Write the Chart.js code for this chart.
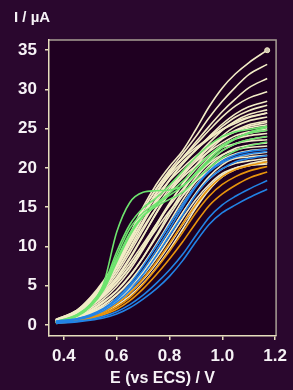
<!DOCTYPE html>
<html><head><meta charset="utf-8">
<script src="https://cdn.jsdelivr.net/npm/chart.js@4.4.1/dist/chart.umd.min.js"></script>
<style>html,body{margin:0;padding:0;background:#2a072e;}canvas{display:block}</style>
</head><body>
<canvas id="c" width="293" height="390"></canvas>
<script>
// Potential (V vs ECS) sample points shared by every voltammogram
const potentials = [0.37,0.45,0.5,0.55,0.6,0.65,0.7,0.75,0.8,0.85,0.9,0.95,1.0,1.05,1.1,1.17];
const xTicks = [0.4,0.6,0.8,1.0,1.2];
const yTicks = [0,5,10,15,20,25,30,35];

// Current (µA) curves
const blueSeries = [
  [0.2,0.4,0.6,0.9,1.4,2.2,3.3,4.6,6.2,8.2,10.6,12.8,14.3,15.3,16.2,17.3],
  [0.3,0.5,0.7,1.1,1.7,2.6,3.8,5.3,7.0,9.0,11.4,13.7,15.3,16.4,17.3,18.4],
  [0.4,0.7,1.1,1.8,2.9,4.4,6.4,8.8,11.4,14.0,16.6,18.6,19.9,20.8,21.2,21.6],
  [0.5,0.8,1.2,2.0,3.2,4.9,7.0,9.5,12.2,15.0,17.6,19.6,20.9,21.7,22.1,22.4],
  [0.4,0.8,1.3,2.1,3.4,5.2,7.5,10.1,12.8,15.4,17.7,19.5,20.7,21.4,21.8,22.1]
];
const orangeSeries = [
  [0.2,0.5,0.8,1.3,2.0,3.1,4.6,6.4,8.4,10.6,13.0,15.2,16.7,17.8,18.7,19.5],
  [0.3,0.6,0.9,1.4,2.3,3.5,5.2,7.2,9.4,11.8,14.3,16.4,17.9,18.9,19.6,20.2],
  [0.3,0.6,1.0,1.6,2.7,4.1,5.9,8.0,10.4,12.9,15.3,17.4,18.9,19.8,20.3,20.8]
];
const greenSeries = [
  [0.4,1.3,2.6,5.2,11.8,15.6,16.9,17.1,17.2,17.7,19.4,21.1,22.6,23.7,24.5,25.2],
  [0.3,1.2,2.5,4.8,8.8,12.3,14.3,15.5,16.8,18.3,20.0,21.6,22.9,23.8,24.4,24.8],
  [0.3,1.1,2.3,4.4,8.0,11.4,13.8,15.1,16.0,16.9,18.5,20.0,21.3,22.2,22.8,23.3],
  [0.4,1.3,2.6,5.0,9.3,12.8,14.9,16.2,17.8,19.6,21.4,22.9,24.0,24.6,24.9,25.3],
  [0.3,1.2,2.4,4.6,8.3,11.7,13.9,15.3,16.5,17.7,19.2,20.8,22.2,23.1,23.6,24.0]
];
const creamSeries = [
  [0.6,1.8,3.3,5.4,8.0,11.5,15.0,17.9,20.2,22.2,24.9,27.8,30.2,32.0,33.4,35.0],
  [0.6,1.8,3.2,5.2,7.8,11.2,14.6,17.4,19.7,21.8,24.0,26.4,28.5,30.3,31.9,33.2],
  [0.5,1.7,3.1,5.0,7.5,10.6,13.8,16.7,19.2,21.3,23.3,25.3,27.2,28.8,30.2,31.4],
  [0.6,1.8,3.2,5.1,7.6,10.8,14.0,16.9,19.3,21.3,23.0,24.8,26.5,27.9,28.9,29.7],
  [0.5,1.6,2.9,4.6,6.9,9.8,12.9,15.8,18.4,20.5,22.3,24.0,25.6,26.9,27.8,28.5],
  [0.6,1.7,3.1,4.9,7.3,10.3,13.3,16.0,18.5,20.6,22.3,23.9,25.3,26.5,27.3,28.0],
  [0.4,1.4,2.5,4.0,5.9,8.4,11.3,14.3,17.0,19.4,21.4,23.2,24.8,26.0,26.8,27.4],
  [0.7,1.9,3.4,5.4,8.0,11.2,14.2,16.8,19.0,20.8,22.3,23.7,24.9,25.9,26.5,27.0],
  [0.5,1.5,2.7,4.2,6.1,8.6,11.4,14.2,16.8,19.0,20.9,22.6,24.1,25.3,26.0,26.5],
  [0.4,1.2,2.1,3.3,4.9,7.0,9.6,12.5,15.4,18.0,20.3,22.2,23.7,24.7,25.3,25.8],
  [0.6,1.6,2.8,4.4,6.5,9.2,12.1,14.9,17.4,19.5,21.2,22.6,23.8,24.6,25.1,25.5],
  [0.3,1.0,1.8,2.9,4.3,6.2,8.6,11.4,14.3,17.0,19.4,21.3,22.8,23.8,24.4,24.8],
  [0.5,1.4,2.4,3.7,5.4,7.5,10.0,12.8,15.5,17.9,19.9,21.6,22.9,23.7,24.1,24.4],
  [0.4,1.1,1.9,3.0,4.4,6.3,8.6,11.2,13.9,16.5,18.8,20.7,22.2,23.1,23.6,24.0],
  [0.6,1.7,3.0,4.7,6.9,9.6,12.4,14.9,17.0,18.8,20.3,21.6,22.6,23.1,23.4,23.6],
  [0.3,0.9,1.6,2.5,3.8,5.5,7.7,10.3,13.1,15.9,18.3,20.2,21.6,22.5,22.9,23.2],
  [0.5,1.4,2.5,3.9,5.7,7.9,10.3,12.8,15.2,17.3,19.1,20.6,21.7,22.3,22.6,22.8],
  [0.4,1.0,1.7,2.6,3.9,5.6,7.7,10.1,12.8,15.4,17.8,19.7,21.1,21.8,22.2,22.4],
  [0.3,0.8,1.4,2.2,3.3,4.8,6.7,9.0,11.6,14.3,16.8,18.9,20.4,21.3,21.7,22.0],
  [0.5,1.3,2.3,3.6,5.3,7.4,9.8,12.2,14.5,16.5,18.3,19.7,20.7,21.2,21.4,21.6],
  [0.4,0.9,1.5,2.3,3.4,4.9,6.8,9.1,11.7,14.3,16.7,18.6,19.9,20.6,20.9,21.2],
  [0.3,0.7,1.2,1.9,3.0,4.2,5.8,7.8,10.2,12.9,15.5,17.6,19.1,20.0,20.4,20.8],
  [0.4,0.8,1.3,2.0,3.1,4.5,6.3,8.5,11.0,13.6,16.0,17.9,19.3,20.0,20.3,20.5],
  [0.7,1.9,3.5,5.6,8.3,11.6,14.7,17.3,19.5,21.2,22.6,23.8,24.9,25.7,26.4,27.0],
  [0.6,1.8,3.3,5.3,7.9,11.0,13.9,16.4,18.4,20.0,21.5,22.8,23.9,24.8,25.5,26.0],
  [0.5,1.6,3.0,4.9,7.3,10.3,13.2,15.6,17.7,19.3,20.8,22.1,23.2,24.1,24.6,25.0],
  [0.3,0.6,1.0,1.6,2.5,3.7,5.3,7.3,9.6,12.2,14.9,17.2,18.9,19.9,20.5,21.0],
  [0.3,0.7,1.1,1.8,2.8,4.1,5.8,7.9,10.3,12.8,15.2,17.3,18.9,19.8,20.3,20.7]
];

const COLORS = {cream:'#f2ecc6', green:'#6ee46e', blue:'#2283e6', orange:'#e8940c'};
const TEXT = '#f6f2f6';
const AXIS = '#e6ddbd';
const FONT = '"Liberation Sans", Arial, sans-serif';

function toPoints(vals){ return vals.map((v,i)=>({x:potentials[i], y:v})); }
function mk(vals, color, extra){
  return Object.assign({
    data: toPoints(vals), borderColor: color, borderWidth: 1.6,
    pointRadius: 0, fill: false, cubicInterpolationMode: 'monotone'
  }, extra||{});
}
const datasets = [];
blueSeries.forEach(s=>datasets.push(mk(s, COLORS.blue)));
orangeSeries.forEach(s=>datasets.push(mk(s, COLORS.orange)));
greenSeries.forEach(s=>datasets.push(mk(s, COLORS.green)));
creamSeries.forEach((s,i)=>datasets.push(mk(s, COLORS.cream, i===0 ? {
  pointRadius: potentials.map((p,j)=> j===potentials.length-1 ? 2.5 : 0),
  pointBackgroundColor: '#cfc6b0', pointBorderColor: COLORS.cream, pointBorderWidth: 1
} : {})));

const framePlugin = {
  id: 'frame',
  beforeDraw(chart){
    const {ctx, chartArea:a} = chart;
    ctx.save();
    ctx.fillStyle = '#1f0021';
    ctx.fillRect(a.left, a.top, a.right-a.left, a.bottom-a.top);
    ctx.strokeStyle = '#a89f94';
    ctx.lineWidth = 1.5;
    ctx.beginPath();
    ctx.moveTo(a.left, a.top); ctx.lineTo(a.right, a.top); ctx.lineTo(a.right, a.bottom);
    ctx.stroke();
    ctx.restore();
  },
  afterDraw(chart){
    const ctx = chart.ctx;
    ctx.save();
    ctx.fillStyle = TEXT;
    ctx.font = 'bold 15px ' + FONT;
    ctx.textBaseline = 'middle';
    ctx.textAlign = 'left';
    ctx.fillText('I / µA', 14, 18);
    ctx.restore();
  }
};

new Chart(document.getElementById('c'), {
  type: 'line',
  data: { datasets },
  plugins: [framePlugin],
  options: {
    responsive: false, animation: false,
    layout: { padding: { left: 0, right: 14, top: 40, bottom: 0 } },
    plugins: { legend: {display:false}, tooltip: {enabled:false} },
    scales: {
      x: {
        type: 'linear', min: 0.3439, max: 1.2037,
        afterBuildTicks(s){ s.ticks = xTicks.map(v=>({value:v})); },
        afterFit(s){ s.height = 54; },
        grid: { drawOnChartArea:false, drawTicks:true, tickLength:4, color:AXIS, lineWidth:1.5 },
        border: { display:true, color:AXIS, width:1.5 },
        ticks: { color:TEXT, padding:6, maxRotation:0, font:{family:FONT, size:17, weight:'bold'},
                 callback:(v)=>Number(v).toFixed(1) },
        title: { display:true, text:'E (vs ECS) / V', color:TEXT, padding:{top:0,bottom:2},
                 font:{family:FONT, size:16, weight:'bold'} }
      },
      y: {
        type: 'linear', min: -1.4, max: 36.3,
        afterBuildTicks(s){ s.ticks = yTicks.map(v=>({value:v})); },
        afterFit(s){ s.width = 49; },
        grid: { drawOnChartArea:false, drawTicks:true, tickLength:4, color:AXIS, lineWidth:1.5 },
        border: { display:true, color:AXIS, width:1.5 },
        ticks: { color:TEXT, padding:8, font:{family:FONT, size:17, weight:'bold'},
                 callback:(v)=>String(v) }
      }
    }
  }
});
</script>
</body></html>
